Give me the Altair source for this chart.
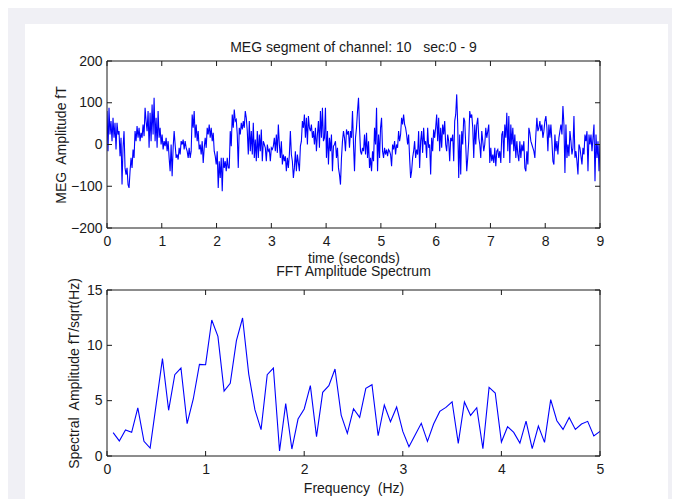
import altair as alt
import pandas as pd
import numpy as np

# ---------------- data ----------------
meg_values = [
    80, -16, 88, 24, 56, 8, 64, 16, 52, -12, 52, 24, 32, -28, 16, -96, -8, 32, -56, -72,
    -56, -96, -104, -64, -32, -56, -12, -32, 32, 8, 44, 16, 40, 8, 28, 16, 48, 20, 88, 56,
    32, 80, -8, 76, 8, 96, 24, 112, 8, 64, -8, 80, 16, 40, 0, 24, -12, 8, -4, 16,
    -16, 8, -32, -64, 0, -76, -8, 32, 0, -32, -24, -36, -8, -24, 8, 0, 12, -12, 8, -8,
    -16, -32, -8, -32, -16, 72, 40, 80, 16, 48, 8, 32, -12, 0, -24, 8, -44, -8, 16, -8,
    40, 24, 48, 16, 40, 8, 28, -16, -28, -48, -16, -104, -40, -80, -32, -112, -32, -56, -40, -64,
    -32, -56,
    -56, 32, -4, 72, 40, 84, 56, 60, 24, -56, 40, 24, 52, 36, 56, 40, 80, 64, 32, -24,
    56, -16, 32, -24, 52, -32, 12, -40, 32, -32, 24, -16, 36, -40, 8, 0, -8, -40, 0, -16,
    -12, -40, -8, -12, -4, 16, -16, 24, -20, 48, 0, -32, 8, -48, -24, -40, -28, -64, -32, -56,
    -24, 32, -24, -40, -80, -56, -16, -64, -24, -44, -64, -4, 8, 56, 40, 72, 16, 64, 0, 68,
    40, 32, 48, 16, 32, 0, 40, -16, 24, 56, -8, 80, 16, 88, 8, 16, 88, -32, 32, -48,
    16, -16, 24, -64, -4, 0, 8, -32, -8, -56, -72, -96, -32, 8, 32, 16, -16, 36, 24, 32,
    -8, 32, 16,
    80, 0, -64, 16, 40, 80, 112, 40, -16, -24, -8, -16, 24, -24, 28, -32, 8, -56, -32, -64,
    -16, -40, 40, 0, 88, -64, 24, -32, 40, 64, -16, -32, -8, -24, -12, -28, -12, -16, -24, -52,
    0, -12, 8, -24, 0, -8, 32, 8, 24, 64, 48, 72, 48, 40, 24, 0, 24, -32, -80, -64,
    -32, -16, 8, -32, -12, -24, 32, -56, 8, 32, -20, 40, 0, 8, -32, 40, -8, 0, -72, 16,
    -16, 36, 16, 40, 72, 8, 64, -16, 40, -8, 48, 24, 56, 0, -16, 24, 8, -40, 16, 8,
    24, -40, 56, 72, 120, 48, -80, 24, -72, 32, 0, 64, 56, 0, -64, -32, 8, 80, 64, 72,
    40, -32, 48, 0,
    48, 64, 16, 0, -32, 32, 8, -16, 0, 40, 16, 32, 48, -44, -8, -40, -24, -44, -8, -52,
    -16, -12, -32, -16, -44, 24, 32, -32, 48, 16, 76, -16, 68, -44, 48, 0, 40, -16, 24, -32,
    8, -24, -40, 8, -32, 0, -16, 8, -56, -64, -16, -48, 40, 28, 8, 0, -8, -16, -32, 24,
    64, 32, 40, 56, 32, 48, 16, 32, 56, 68, 40, -16, 48, 16, 48, 8, -40, -48, 24, -16,
    8, -24, 16, 32, 48, 24, 92, 48, -68, 48, -32, 0, -28, 32, 8, -24, -8, 68, -32, -16,
    -40, -72, 0, -8, -28, -48, -8, -24, 24, 8, 32, -64, 24, 0, 24, -16, 16, 48, -88, 24,
    -32, 8, -64, 0,
]

fft_amplitude = [
    2.11, 1.36, 2.35, 2.14, 4.34, 1.33, 0.72, 4.76, 8.80, 4.13,
    7.35, 7.95, 2.92, 5.15, 8.28, 8.25, 12.29, 10.81, 5.87, 6.57,
    10.42, 12.47, 7.40, 4.19, 2.38, 7.35, 7.95, 0.45, 4.73, 0.63,
    3.34, 4.25, 6.36, 1.75, 5.75, 6.36, 7.86, 3.70, 2.05, 4.27,
    3.49, 6.11, 6.44, 1.83, 4.60, 3.10, 4.42, 2.22, 0.84, 1.90,
    2.95, 1.32, 2.89, 4.03, 4.39, 4.90, 1.14, 4.88, 3.67, 4.36,
    0.66, 6.20, 5.69, 1.26, 2.65, 2.13, 1.17, 3.16, 0.66, 2.71,
    1.23, 5.09, 3.19, 2.40, 3.49, 2.40, 2.89, 3.13, 1.81, 2.22,
]
fft_resolution_hz = 1 / 16

time_ticks = [0, 1, 2, 3, 4, 5, 6, 7, 8, 9]
meg_ticks = [-200, -100, 0, 100, 200]
freq_ticks = [0, 1, 2, 3, 4, 5]
spec_ticks = [0, 5, 10, 15]

top_title = "MEG segment of channel: 10\u00a0\u00a0 sec:0 - 9"
bottom_title = "FFT Amplitude Spectrum"

# ---------------- tables ----------------
meg_df = pd.DataFrame({
    "time": np.linspace(0, 9, len(meg_values)),
    "amp": meg_values,
})
fft_df = pd.DataFrame({
    "freq": np.arange(1, len(fft_amplitude) + 1) * fft_resolution_hz,
    "spec": fft_amplitude,
})

FONT = "Liberation Sans"
INK = "#1a1a1a"
BLUE = "#0000ff"
W, H1, H2 = 493, 167, 166
TICK = 5
ONE = pd.DataFrame({"a": [0]})


def make_axis(values, title, label_pad, title_pad):
    return alt.Axis(
        values=values, format="d", title=title,
        domain=False, ticks=False, grid=False,
        labelFont=FONT, labelFontSize=14, labelColor=INK,
        titleFont=FONT, titleFontSize=14, titleColor=INK, titleFontWeight="normal",
        labelFlush=False, labelOverlap=False, labelBound=False, zindex=1,
        labelPadding=label_pad, titlePadding=title_pad,
    )


def panel(df, xf, yf, xscale, yscale, xaxis, yaxis, xticks, yticks, w, h, title, title_y):
    line = alt.Chart(df).mark_line(color=BLUE, strokeWidth=1.1, clip=True).encode(
        x=alt.X(f"{xf}:Q", scale=xscale, axis=xaxis),
        y=alt.Y(f"{yf}:Q", scale=yscale, axis=yaxis),
    )
    xt = alt.Chart(pd.DataFrame({xf: xticks})).mark_rule(color=INK, strokeWidth=1)
    yt = alt.Chart(pd.DataFrame({yf: yticks})).mark_rule(color=INK, strokeWidth=1)
    xx = alt.X(f"{xf}:Q", scale=xscale, axis=xaxis)
    yy = alt.Y(f"{yf}:Q", scale=yscale, axis=yaxis)
    ticks = [
        xt.encode(x=xx, y=alt.value(0), y2=alt.value(TICK)),
        xt.encode(x=xx, y=alt.value(h), y2=alt.value(h - TICK)),
        yt.encode(y=yy, x=alt.value(0), x2=alt.value(TICK)),
        yt.encode(y=yy, x=alt.value(w), x2=alt.value(w - TICK)),
    ]
    frame = alt.Chart(ONE).mark_rect(filled=False, color=INK, strokeWidth=1).encode(
        x=alt.value(0), x2=alt.value(w), y=alt.value(0), y2=alt.value(h)
    )
    head = alt.Chart(ONE).mark_text(
        text=title, font=FONT, fontSize=14, color=INK, align="center", baseline="alphabetic"
    ).encode(x=alt.value(w / 2), y=alt.value(title_y))
    return [line, *ticks, frame, head]


# ---------------- top panel ----------------
x_top = alt.Scale(domain=[0, 9], nice=False, zero=False)
y_top = alt.Scale(domain=[-200, 200], nice=False, zero=False)
xa_top = make_axis(time_ticks, "time (seconds)", 6, 3)
ya_top = make_axis(meg_ticks, "MEG\u00a0 Amplitude fT", 5, 2)

paper = alt.Chart(ONE).mark_rect(color="white").encode(
    x=alt.value(-82), x2=alt.value(W + 68), y=alt.value(-37), y2=alt.value(460)
)

top = alt.layer(
    paper,
    *panel(meg_df, "time", "amp", x_top, y_top, xa_top, ya_top,
           time_ticks, meg_ticks, W, H1, top_title, -9),
).properties(width=W, height=H1)

# ---------------- bottom panel ----------------
x_bot = alt.Scale(domain=[0, 5], nice=False, zero=False)
y_bot = alt.Scale(domain=[0, 15], nice=False, zero=False)
xa_bot = make_axis(freq_ticks, "Frequency\u00a0 (Hz)", 6, 5)
ya_bot = make_axis(spec_ticks, "Spectral\u00a0 Amplitude fT/sqrt(Hz)", 5, 5)

bottom = alt.layer(
    *panel(fft_df, "freq", "spec", x_bot, y_bot, xa_bot, ya_bot,
           freq_ticks, spec_ticks, W, H2, bottom_title, -14),
).properties(width=W, height=H2)

chart = alt.vconcat(top, bottom, spacing=62, bounds="flush").properties(
    padding={"left": 17, "top": 16, "right": 4, "bottom": 0},
    background="#f0f0f5",
).configure_view(strokeWidth=0)

chart.save("out.html", embed_options={"renderer": "svg", "actions": False})
